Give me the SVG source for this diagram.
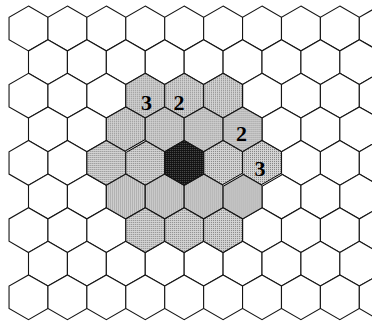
<svg xmlns="http://www.w3.org/2000/svg" width="372" height="323" viewBox="0 0 372 323">
<style>
.g use{stroke:#151515;stroke-width:1.1;stroke-linejoin:miter}
.w{fill:#fff}
.l{fill:url(#lt)}
.d{fill:url(#dk)}
.n{font-family:"Liberation Serif","Times New Roman",serif;font-weight:bold;font-size:22px;text-anchor:middle;fill:#000}
.dbl{stroke:#000;stroke-width:2.6}
.gap{stroke:#fff;stroke-width:0.8}
</style>
<defs>
<polygon id="h" points="0,-22.4 19.46,-11.2 19.46,11.2 0,22.4 -19.46,11.2 -19.46,-11.2"/>
<pattern id="lt" width="2" height="2" patternUnits="userSpaceOnUse"><rect width="2" height="2" fill="#d6d6d6"/><rect width="1" height="1" fill="#7c7c7c"/></pattern>
<pattern id="dk" width="2" height="2" patternUnits="userSpaceOnUse"><rect width="2" height="2" fill="#101010"/><rect width="1" height="1" fill="#5a5a5a"/></pattern>
</defs>
<rect width="372" height="323" fill="#fff"/>
<g id="grid" class="g">
<g id="row0" class="w">
<use href="#h" x="28.5" y="28.5"/><use href="#h" x="67.42" y="28.5"/><use href="#h" x="106.34" y="28.5"/><use href="#h" x="145.26" y="28.5"/><use href="#h" x="184.18" y="28.5"/><use href="#h" x="223.1" y="28.5"/><use href="#h" x="262.02" y="28.5"/><use href="#h" x="300.94" y="28.5"/><use href="#h" x="339.86" y="28.5"/><use href="#h" x="378.78" y="28.5"/>
</g>
<g id="row1" class="w">
<use href="#h" x="47.96" y="62.1"/><use href="#h" x="86.88" y="62.1"/><use href="#h" x="125.8" y="62.1"/><use href="#h" x="164.72" y="62.1"/><use href="#h" x="203.64" y="62.1"/><use href="#h" x="242.56" y="62.1"/><use href="#h" x="281.48" y="62.1"/><use href="#h" x="320.4" y="62.1"/><use href="#h" x="359.32" y="62.1"/>
</g>
<g id="row2" class="w">
<use href="#h" x="28.5" y="95.7"/><use href="#h" x="67.42" y="95.7"/><use href="#h" x="106.34" y="95.7"/><use href="#h" x="262.02" y="95.7"/><use href="#h" x="300.94" y="95.7"/><use href="#h" x="339.86" y="95.7"/><use href="#h" x="378.78" y="95.7"/>
</g>
<g id="row3" class="w">
<use href="#h" x="47.96" y="129.3"/><use href="#h" x="86.88" y="129.3"/><use href="#h" x="281.48" y="129.3"/><use href="#h" x="320.4" y="129.3"/><use href="#h" x="359.32" y="129.3"/>
</g>
<g id="row4" class="w">
<use href="#h" x="28.5" y="162.9"/><use href="#h" x="67.42" y="162.9"/><use href="#h" x="300.94" y="162.9"/><use href="#h" x="339.86" y="162.9"/><use href="#h" x="378.78" y="162.9"/>
</g>
<g id="row5" class="w">
<use href="#h" x="47.96" y="196.5"/><use href="#h" x="86.88" y="196.5"/><use href="#h" x="281.48" y="196.5"/><use href="#h" x="320.4" y="196.5"/><use href="#h" x="359.32" y="196.5"/>
</g>
<g id="row6" class="w">
<use href="#h" x="28.5" y="230.1"/><use href="#h" x="67.42" y="230.1"/><use href="#h" x="106.34" y="230.1"/><use href="#h" x="262.02" y="230.1"/><use href="#h" x="300.94" y="230.1"/><use href="#h" x="339.86" y="230.1"/><use href="#h" x="378.78" y="230.1"/>
</g>
<g id="row7" class="w">
<use href="#h" x="47.96" y="263.7"/><use href="#h" x="86.88" y="263.7"/><use href="#h" x="125.8" y="263.7"/><use href="#h" x="164.72" y="263.7"/><use href="#h" x="203.64" y="263.7"/><use href="#h" x="242.56" y="263.7"/><use href="#h" x="281.48" y="263.7"/><use href="#h" x="320.4" y="263.7"/><use href="#h" x="359.32" y="263.7"/>
</g>
<g id="row8" class="w">
<use href="#h" x="28.5" y="297.3"/><use href="#h" x="67.42" y="297.3"/><use href="#h" x="106.34" y="297.3"/><use href="#h" x="145.26" y="297.3"/><use href="#h" x="184.18" y="297.3"/><use href="#h" x="223.1" y="297.3"/><use href="#h" x="262.02" y="297.3"/><use href="#h" x="300.94" y="297.3"/><use href="#h" x="339.86" y="297.3"/><use href="#h" x="378.78" y="297.3"/>
</g>
<g id="cluster" class="l">
<use href="#h" x="145.26" y="95.7"/><use href="#h" x="184.18" y="95.7"/><use href="#h" x="223.1" y="95.7"/>
<use href="#h" x="125.8" y="129.3"/><use href="#h" x="164.72" y="129.3"/><use href="#h" x="203.64" y="129.3"/><use href="#h" x="242.56" y="129.3"/>
<use href="#h" x="106.34" y="162.9"/><use href="#h" x="145.26" y="162.9"/><use href="#h" x="223.1" y="162.9"/><use href="#h" x="262.02" y="162.9"/>
<use href="#h" x="125.8" y="196.5"/><use href="#h" x="164.72" y="196.5"/><use href="#h" x="203.64" y="196.5"/><use href="#h" x="242.56" y="196.5"/>
<use href="#h" x="145.26" y="230.1"/><use href="#h" x="184.18" y="230.1"/><use href="#h" x="223.1" y="230.1"/>
</g>
<g id="center" class="d">
<use href="#h" x="184.18" y="162.9"/>
</g>
</g>
<g id="double-edges">
<line class="dbl" x1="125.8" y1="151.7" x2="145.26" y2="140.5"/>
<line class="gap" x1="125.8" y1="151.7" x2="145.26" y2="140.5"/>
<line class="dbl" x1="223.1" y1="185.3" x2="242.56" y2="174.1"/>
<line class="gap" x1="223.1" y1="185.3" x2="242.56" y2="174.1"/>
<line class="dbl" x1="262.02" y1="185.3" x2="281.48" y2="174.1"/>
<line class="gap" x1="262.02" y1="185.3" x2="281.48" y2="174.1"/>
</g>
<g id="labels">
<text class="n" x="146.5" y="109.5">3</text>
<text class="n" x="179" y="109.5">2</text>
<text class="n" x="241.5" y="140.5">2</text>
<text class="n" x="260" y="175.5">3</text>
</g>
</svg>
